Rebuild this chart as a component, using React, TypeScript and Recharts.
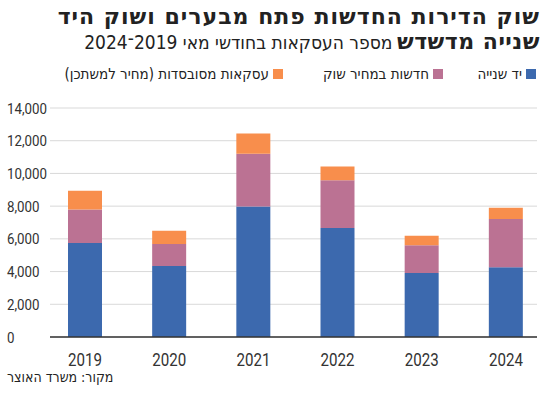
import React from 'react';
import { BarChart, Bar, XAxis, YAxis, CartesianGrid } from 'recharts';

const years = ['2019', '2020', '2021', '2022', '2023', '2024'];
const resale = [5750, 4345, 7975, 6670, 3920, 4260];
const newMarket = [2040, 1345, 3225, 2915, 1690, 2960];
const subsidized = [1145, 800, 1245, 840, 575, 675];
const yTicks = [0, 2000, 4000, 6000, 8000, 10000, 12000, 14000];

const seriesKeys = ['resale', 'newMarket', 'subsidized'];
const seriesNames = ['יד שנייה', 'חדשות במחיר שוק', 'עסקאות מסובסדות (מחיר למשתכן)'];
const seriesColors = ['#3c69ae', '#bb7293', '#f88e4c'];

const NUM = 'Roboto, sans-serif';
const COND = '"DejaVu Sans Condensed", sans-serif';

const data = years.map((year, i) => ({
  year,
  resale: resale[i],
  newMarket: newMarket[i],
  subsidized: subsidized[i],
}));

const legendWidths = [93, 160, undefined];

// numbers in the source are a narrow face, so squeeze Roboto horizontally
function YTick({ y, payload }: any) {
  return (
    <text transform={`translate(7,${y}) scale(0.86,1)`} dy={5.5} textAnchor="start" fill="#333" fontSize={15.5} fontFamily={NUM}>
      {payload.value.toLocaleString('en-US')}
    </text>
  );
}

function XTick({ x, y, payload }: any) {
  return (
    <text transform={`translate(${x},${y}) scale(0.84,1)`} dy="0.71em" textAnchor="middle" fill="#333" fontSize={18} fontFamily={NUM}>
      {payload.value}
    </text>
  );
}

export default function App() {
  return (
    <div style={{ position: 'absolute', left: 0, top: 0, width: 550, height: 393, background: '#fff', color: '#222' }}>
      <div style={{ position: 'absolute', right: 10, top: 4, direction: 'rtl', fontFamily: COND, lineHeight: '25px', whiteSpace: 'nowrap' }}>
        <div style={{ fontSize: 22, fontWeight: 'bold', fontFamily: '"DejaVu Sans", sans-serif', letterSpacing: 1 }}>
          שוק הדירות החדשות פתח מבערים ושוק היד
        </div>
        <div>
          <span style={{ fontSize: 22, fontWeight: 'bold', fontFamily: '"DejaVu Sans", sans-serif', letterSpacing: 0.5 }}>שנייה מדשדש</span>{' '}
          <span style={{ fontSize: 19 }}>מספר העסקאות בחודשי מאי 2019־2024</span>
        </div>
      </div>
      <div style={{ position: 'absolute', right: 14, top: 65, direction: 'rtl', display: 'flex', fontFamily: COND, fontSize: 15, whiteSpace: 'nowrap' }}>
        {seriesNames.map((n, i) => (
          <div key={n} style={{ display: 'flex', alignItems: 'center', width: legendWidths[i] }}>
            <span style={{ width: 10, height: 10, background: seriesColors[i], marginLeft: 4, display: 'inline-block' }} />
            <span>{n}</span>
          </div>
        ))}
      </div>
      <div style={{ position: 'absolute', left: 0, top: 0 }}>
        <BarChart width={550} height={393} data={data} margin={{ top: 108, right: 13, bottom: 26, left: 0 }}>
          <CartesianGrid vertical={false} stroke="#d9d9d9" />
          <YAxis width={50} domain={[0, 14000]} ticks={yTicks} axisLine={false} tickLine={false} tick={<YTick />} />
          <XAxis
            dataKey="year"
            padding={{ left: -7, right: -11 }}
            axisLine={{ stroke: '#333', strokeWidth: 1.5 }}
            tickLine={false}
            tickMargin={10}
            tick={<XTick />}
          />
          {seriesKeys.map((k, i) => (
            <Bar key={k} dataKey={k} stackId="a" fill={seriesColors[i]} barSize={34} isAnimationActive={false} />
          ))}
        </BarChart>
      </div>
      <div style={{ position: 'absolute', left: 7, top: 369, direction: 'rtl', fontFamily: COND, fontSize: 14 }}>
        מקור: משרד האוצר
      </div>
    </div>
  );
}
